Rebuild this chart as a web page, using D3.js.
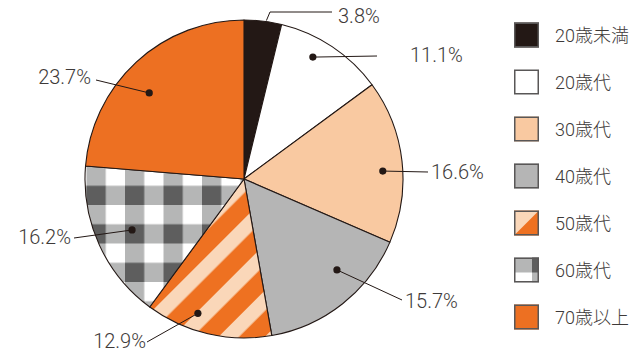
<!DOCTYPE html>
<html>
<head>
<meta charset="utf-8">
<script src="https://cdn.jsdelivr.net/npm/d3@7"></script>
<style>
  body { margin: 0; background: #fff; }
  svg text { font-family: Roboto, "Noto Sans CJK JP", sans-serif; font-weight: 300; fill: #3e3a39; }
</style>
</head>
<body>
<div class="pie__chart"></div>
<script>
// data
var categories = ["20歳未満", "20歳代", "30歳代", "40歳代", "50歳代", "60歳代", "70歳以上"];
var shares = [3.8, 11.1, 16.6, 15.7, 12.9, 16.2, 23.7];
var shareLabels = ["3.8%", "11.1%", "16.6%", "15.7%", "12.9%", "16.2%", "23.7%"];

// label layout: text x, baseline y, anchor, leader points after dot, dot angle nudge (deg), dot radius
var labelLayout = [
  {x: 338, y: 23, anchor: "start", pts: [[270, 12], [332, 12]], nudge: 1.2, r: 160, dot: false},
  {x: 410, y: 62, anchor: "start", pts: [[377, 56]], nudge: -4.2, r: 140, dot: true},
  {x: 431, y: 179, anchor: "start", pts: [[428, 172]], nudge: 3.2, r: 139, dot: true},
  {x: 405, y: 308, anchor: "start", pts: [[402, 300]], nudge: -7.3, r: 130, dot: true},
  {x: 146, y: 348, anchor: "end", pts: [[147, 342]], nudge: 5.8, r: 142, dot: true},
  {x: 71, y: 244, anchor: "end", pts: [[74, 238]], nudge: 0, r: 123, dot: true},
  {x: 91, y: 84, anchor: "end", pts: [[96, 80]], nudge: -5.1, r: 128, dot: true}
];

var width = 632, height = 354;
var cx = 244, cy = 179, radius = 159;

var svg = d3.select(".pie__chart")
    .append("svg")
    .attr("width", width)
    .attr("height", height);

var defs = svg.append("defs");

// stripes for 50歳代
var sp = 32.7;
var stripe = defs.append("pattern")
    .attr("id", "stripe")
    .attr("patternUnits", "userSpaceOnUse")
    .attr("x", -4.5)
    .attr("width", sp)
    .attr("height", sp)
    .attr("patternTransform", "rotate(45)");
stripe.append("rect").attr("width", sp).attr("height", sp).attr("fill", "#ee7121");
stripe.append("rect").attr("width", 14.5).attr("height", sp).attr("fill", "#fad7b9");

// gingham for 60歳代 (pattern space = pie group space)
var cell = 19.25;
var check = defs.append("pattern")
    .attr("id", "check")
    .attr("patternUnits", "userSpaceOnUse")
    .attr("x", 86.5 - cx)
    .attr("y", 166.5 - cy)
    .attr("width", cell * 2)
    .attr("height", cell * 2);
check.append("rect").attr("width", cell * 2).attr("height", cell * 2).attr("fill", "#b5b6b6");
check.append("rect").attr("x", cell).attr("width", cell).attr("height", cell).attr("fill", "#ffffff");
check.append("rect").attr("y", cell).attr("width", cell).attr("height", cell).attr("fill", "#5e5e5e");

var fills = ["#231815", "#ffffff", "#f9c9a1", "#b5b5b5", "url(#stripe)", "url(#check)", "#ed7022"];

var pie = d3.pie().sort(null).value(function(d){ return d; });
var arcs = pie(shares);
var arc = d3.arc().innerRadius(0).outerRadius(radius);

var g = svg.append("g").attr("transform", "translate(" + cx + "," + cy + ")");

g.selectAll("path.slice")
  .data(arcs)
  .enter().append("path")
  .attr("class", "slice")
  .attr("d", arc)
  .attr("fill", function(d, i){ return fills[i]; })
  .attr("stroke", "#231815")
  .attr("stroke-width", 1.1)
  .attr("stroke-linejoin", "round");

// labels
arcs.forEach(function(d, i) {
  var L = labelLayout[i];
  var a = (d.startAngle + d.endAngle) / 2 + L.nudge * Math.PI / 180;
  var px = cx + L.r * Math.sin(a), py = cy - L.r * Math.cos(a);
  var pts = [[px, py]].concat(L.pts);
  svg.append("path")
    .attr("d", d3.line()(pts))
    .attr("fill", "none")
    .attr("stroke", "#231815")
    .attr("stroke-width", 1);
  if (L.dot) {
    svg.append("circle").attr("cx", px).attr("cy", py).attr("r", 3.6).attr("fill", "#231815");
  }
  svg.append("text")
    .attr("x", L.x)
    .attr("y", L.y)
    .attr("text-anchor", L.anchor)
    .style("font-size", "20px")
    .text(shareLabels[i]);
});

// legend
var legY = d3.scalePoint().domain(categories).range([35, 317]);
var sq = 25;
var leg = svg.append("g").attr("class", "legend");
categories.forEach(function(c, i) {
  var y0 = legY(c) - sq / 2, x0 = 514;
  var item = leg.append("g").attr("transform", "translate(" + x0 + "," + y0 + ")");
  if (i == 4) {
    item.append("rect").attr("width", sq).attr("height", sq).attr("fill", "#ee7121");
    item.append("path").attr("d", "M0,0H" + sq + "L0," + sq + "Z").attr("fill", "#fad7b9");
  } else if (i == 5) {
    var sx = sq * 0.72, sy = sq * 0.6;
    item.append("rect").attr("width", sq).attr("height", sq).attr("fill", "#b5b6b6");
    item.append("rect").attr("x", sx).attr("width", sq - sx).attr("height", sy).attr("fill", "#5e5e5e");
    item.append("rect").attr("y", sy).attr("width", sx).attr("height", sq - sy).attr("fill", "#ffffff");
  } else {
    item.append("rect").attr("width", sq).attr("height", sq).attr("fill", fills[i]);
  }
  item.append("rect")
    .attr("x", 0.75).attr("y", 0.75)
    .attr("width", sq - 1.5).attr("height", sq - 1.5)
    .attr("fill", "none")
    .attr("stroke", "#595757")
    .attr("stroke-width", 1.5);
  leg.append("text")
    .attr("x", 555)
    .attr("y", legY(c) + 6.5)
    .style("font-size", "18px")
    .text(c);
});
</script>
</body>
</html>
